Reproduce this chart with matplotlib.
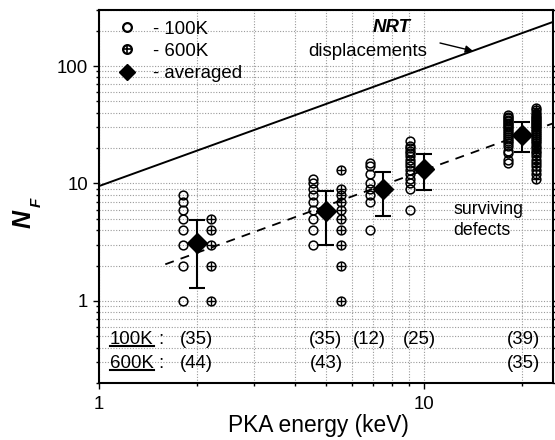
import matplotlib
matplotlib.use("Agg")
import matplotlib.pyplot as plt
from matplotlib.ticker import LogLocator, NullFormatter, FixedLocator, FixedFormatter
from matplotlib.lines import Line2D

plt.rcParams['font.family'] = ['Liberation Sans', 'DejaVu Sans']

# ---------------- data ----------------
energies = [2, 5, 7.5, 10, 20]          # PKA energy (keV)
nf_100K = {
    2:   [1, 2, 3, 4, 5, 6, 7, 8],
    5:   [3, 4, 5, 6, 7, 8, 9, 10, 11],
    7.5: [4, 7, 8, 9, 10, 12, 14, 15],
    10:  [6, 9, 10, 11, 12, 13, 14, 15, 16, 17, 18, 19, 20, 21, 23],
    20:  [15, 16, 18, 19, 21, 22, 23, 24, 25, 26, 27, 28, 29, 30, 31, 32,
          33, 34, 35, 36, 37, 38],
}
nf_600K = {
    2:  [1, 2, 3, 4, 5],
    5:  [1, 2, 3, 4, 5, 6, 7, 8, 9, 13],
    20: [11, 12, 13, 14, 15, 16, 17, 18, 19, 20, 21, 22, 23, 24, 25, 26,
         27, 28, 29, 30, 31, 32, 33, 34, 35, 36, 37, 38, 40, 42, 44],
}
avg_nf = [3.1, 5.8, 8.9, 13.3, 26.0]
std_nf = [1.8, 2.8, 3.6, 4.5, 7.5]

count_100K = ["(35)", "(35)", "(12)", "(25)", "(39)"]
count_100K_x = [2, 5, 6.8, 9.7, 20.3]
count_600K = ["(44)", "(43)", "(35)"]
count_600K_x = [2, 5, 20.3]

nrt_E = [1, 25]
nrt_N = [9.5, 237.5]          # NRT displacements
fit_E = [1.6, 25]
fit_N = [2.05, 32.5]          # surviving defects fit

# ---------------- figure ----------------
W, H = 555, 440
fig = plt.figure(figsize=(W / 100, H / 100), dpi=100)
L, R, T, B = 99, 553, 10, 383
ax = fig.add_axes([L / W, 1 - B / H, (R - L) / W, (B - T) / H])
ax.set_xscale('log')
ax.set_yscale('log')
ax.set_xlim(1, 25)
ax.set_ylim(0.2, 300)

def fx(px):
    return px / W

def fy(py):
    return 1 - py / H

grid_kw = dict(color='#9a9a9a', linestyle=(0, (1, 1.5)), linewidth=0.8)
ax.grid(True, which='both', **grid_kw)
ax.set_axisbelow(True)

ax.xaxis.set_major_locator(FixedLocator([1, 10]))
ax.xaxis.set_major_formatter(FixedFormatter(['1', '10']))
ax.xaxis.set_minor_locator(LogLocator(base=10, subs=range(2, 10), numticks=20))
ax.xaxis.set_minor_formatter(NullFormatter())
ax.yaxis.set_major_locator(FixedLocator([1, 10, 100]))
ax.yaxis.set_major_formatter(FixedFormatter(['1', '10', '100']))
ax.yaxis.set_minor_locator(LogLocator(base=10, subs=range(2, 10), numticks=20))
ax.yaxis.set_minor_formatter(NullFormatter())

ax.tick_params(which='both', direction='out', width=1.0, colors='black',
               top=False, right=True, labelsize=13.4)
ax.tick_params(which='major', length=4.5)
ax.tick_params(which='minor', length=2.5)
ax.tick_params(axis='x', pad=5)
ax.tick_params(axis='y', pad=3.5)
for s in ax.spines.values():
    s.set_linewidth(1.5)

# lines
ax.plot(nrt_E, nrt_N, color='black', lw=1.4, zorder=3)
ax.plot(fit_E, fit_N, color='black', lw=1.3, dashes=(5, 4), zorder=3)

ms = 6.3
for E in energies:
    if E in nf_100K:
        v = nf_100K[E]
        ax.plot([E * 0.91] * len(v), v, 'o', ms=ms, mfc='none', mec='black',
                mew=1.1, zorder=4)
    if E in nf_600K:
        v = nf_600K[E]
        ax.plot([E * 1.11] * len(v), v, 'o', ms=ms, mfc='none', mec='black',
                mew=1.1, zorder=4)
        ax.plot([E * 1.11] * len(v), v, '+', ms=ms, mec='black',
                mew=1.0, zorder=4)

ax.errorbar(energies, avg_nf, yerr=std_nf, fmt='D', ms=10, color='black',
            ecolor='black', elinewidth=1.5, capsize=5.5, capthick=1.5, zorder=5)

# legend (manual)
lx = fx(127)
for py, kind, lab in [(27, 'o', '- 100K'), (49, 'p', '- 600K'), (72, 'D', '- averaged')]:
    if kind == 'o':
        fig.add_artist(Line2D([lx], [fy(py)], marker='o', ms=ms, mfc='none',
                              mec='black', mew=1.6, transform=fig.transFigure))
    elif kind == 'p':
        fig.add_artist(Line2D([lx], [fy(py)], marker='o', ms=ms, mfc='none',
                              mec='black', mew=1.6, transform=fig.transFigure))
        fig.add_artist(Line2D([lx], [fy(py)], marker='+', ms=ms, mec='black',
                              mew=1.2, transform=fig.transFigure))
    else:
        fig.add_artist(Line2D([lx], [fy(py)], marker='D', ms=8.5, mfc='black',
                              mec='black', transform=fig.transFigure))
    fig.text(fx(153), fy(py), lab, fontsize=13.4, ha='left', va='center_baseline')

# NRT annotation
fig.text(fx(392), fy(25), 'NRT', fontsize=13.4, fontweight='bold',
         fontstyle='italic', ha='center', va='center_baseline')
fig.text(fx(308), fy(49), 'displacements', fontsize=13.4, ha='left',
         va='center_baseline')
ax.annotate('', xy=(fx(473), fy(51)), xytext=(fx(440), fy(43)),
            xycoords='figure fraction', textcoords='figure fraction',
            arrowprops=dict(arrowstyle='-|>', color='black', lw=1.0,
                            mutation_scale=11, shrinkA=0, shrinkB=0))

fig.text(fx(453), fy(207), 'surviving', fontsize=12.8, ha='left', va='center_baseline')
fig.text(fx(453), fy(228), 'defects', fontsize=12.8, ha='left', va='center_baseline')

# bottom counts
y100, y600 = 0.49, 0.307
for lab, yv, py in [('100K', y100, 337), ('600K', y600, 361)]:
    fig.text(fx(110), fy(py), lab, fontsize=13.4, ha='left', va='center_baseline')
    fig.text(fx(161), fy(py), ':', fontsize=13.4, ha='center', va='center_baseline')
    fig.add_artist(Line2D([fx(110), fx(154)], [fy(py + 9), fy(py + 9)],
                          color='black', lw=1.5, transform=fig.transFigure))
for xv, lab in zip(count_100K_x, count_100K):
    ax.text(xv, y100, lab, fontsize=13.4, ha='center', va='center_baseline')
for xv, lab in zip(count_600K_x, count_600K):
    ax.text(xv, y600, lab, fontsize=13.4, ha='center', va='center_baseline')

# axis labels
fig.text(fx(318), fy(425), 'PKA energy (keV)', fontsize=16.4, ha='center', va='center')
fig.text(fx(24), fy(219), 'N', fontsize=18, fontweight='bold', fontstyle='italic',
         rotation=90, ha='center', va='center')
fig.text(fx(37), fy(202), 'F', fontsize=11, fontweight='bold', fontstyle='italic',
         rotation=90, ha='center', va='center')

fig.savefig('out.png', dpi=100)
